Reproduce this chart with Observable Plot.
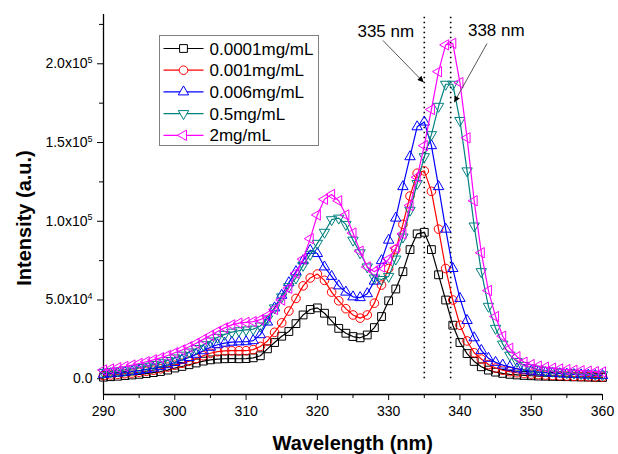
<!DOCTYPE html>
<html><head><meta charset="utf-8">
<script src="https://cdn.jsdelivr.net/npm/d3@7"></script>
<script src="https://cdn.jsdelivr.net/npm/@observablehq/plot@0.6"></script>
<style>
body{margin:0;background:#fff;}
#chart{position:relative;width:618px;height:454px;}
</style></head><body><div id="chart"></div>
<script>
// Wavelength grid (nm)
const wavelength = [290,291,292,293,294,295,296,297,298,299,300,301,302,303,304,305,306,307,308,309,310,311,312,313,314,315,316,317,318,319,320,321,322,323,324,325,326,327,328,329,330,331,332,333,334,335,336,337,338,339,340,341,342,343,344,345,346,347,348,349,350,351,352,353,354,355,356,357,358,359,360];
// Intensities in units of 10^3 a.u.
const c0001 = [1.0,1.3,1.6,2.0,2.4,2.8,3.3,3.9,4.6,5.5,6.8, 7.8,8.9,10.0,11.2,12.0,12.5,12.7,12.8,12.7,12.8, 13.3,14.6,19.0,23.0,27.0,30.0,35.0,40.5,44.0,45.0, 41.6,36.7,32.0,28.9,26.8,26.0,27.8,32.5,39.5,49.5, 57,68,82,92,93,82,66,50,34,23, 16,11,7.6,5.5,4.2,3.4,2.8,2.4,2.1,1.9, 1.7,1.6,1.5,1.4,1.3,1.2,1.1,1.0,0.9,0.8];
const c001 = [2.0,2.4,2.8,3.2,3.6,4.1,4.7,5.4,6.3,7.4,8.6, 9.8,11.2,12.8,14.6,16.2,17.2,17.7,17.8,17.8,17.8, 18.5,20.5,24.0,29.5,35.5,43.0,51.0,59.0,64.0,66.5, 62.5,55.0,49.5,44.5,40.5,38.5,40.5,48.0,59.5,70.0, 82,98,116,130.5,132,119,95,70,50,34, 24,16.5,12.5,9,6.8,5.4,4.5,3.8,3.3,2.9, 2.6,2.3,2.1,1.9,1.7,1.5,1.4,1.3,1.2,1.1];
const c006 = [2.8,3.2,3.6,4.1,4.6,5.2,5.9,6.7,7.7,8.9,10.3, 11.8,13.5,15.5,17.8,20.0,21.6,22.6,23.2,23.4,23.5, 24.2,28.0,36.0,45.0,53.0,61.0,68.0,75.0,81.5,79.5, 71,65,59,55,52,51.5,54,62,75,88, 102,122,141,160,163,148,122,95,70,51, 37,26,18,13,10.4,8.7,7.5,6.3,5.5,4.8, 4.3,3.9,3.5,3.2,2.9,2.7,2.5,2.3,2.1,2.0];
const c05 = [4.0,4.5,5.0,5.6,6.3,7.1,8.0,9.0,10.2,11.6,13.2, 15.0,17.0,19.2,21.6,24.0,26.3,28.2,29.6,30.5,31.0, 31.5,33.5,38.0,45.0,52.0,58.5,64.0,72.0,79.0,86.0, 93,101,102,98,88,80,71,64,63,65, 76,90,107,124,141,155,173,187,187,164, 132,97,68,46,32,22,15,11,8.5,7.0, 6.0,5.3,4.8,4.3,3.9,3.6,3.3,3.0,2.8,2.6];
const c2 = [5.5,6.2,7.0,7.8,8.7,9.7,10.8,12.0,13.3,14.8,16.5, 18.3,20.3,22.5,25.0,27.5,30.0,32.3,34.2,35.3,35.8, 36.3,37.5,40.0,44.0,50.0,57.5,67.0,76.0,89.0,104.0, 114,117,113,104,92.5,81,71,68,71,76, 83,92,110,128,148,171,195,212,213,188, 153,113,80,56,39.5,27,19.3,14,10.5,9.0, 8.0,7.3,6.7,6.2,5.8,5.4,5.1,4.8,4.5,4.3];

const seriesNames = ["0.0001mg/mL","0.001mg/mL","0.006mg/mL","0.5mg/mL","2mg/mL"];
const seriesValues = [c0001, c001, c006, c05, c2];
const seriesColors = ["#000000","#ff0000","#0000ff","#008080","#ff00ff"];

const xTicks = [290,300,310,320,330,340,350,360];
const xMinor = [295,305,315,325,335,345,355];
const yTicks = [0,50000,100000,150000,200000];
const yMinor = [25000,75000,125000,175000,225000];
const peakLines = [335, 338.7];
const notes = [{label:"335 nm", x:329.6, y:220700},{label:"338 nm", x:345.1, y:220800}];
const arrows = [{x1:329.2, y1:214800, x2:334.9, y2:188300},{x1:343.8, y1:212900, x2:339.2, y2:175600}];

// symbols
const symSquare = {draw(c,s){const r=Math.sqrt(s/Math.PI),h=r*0.75;c.moveTo(-h,-h);c.lineTo(h,-h);c.lineTo(h,h);c.lineTo(-h,h);c.closePath();}};
const symCircle = {draw(c,s){const r=Math.sqrt(s/Math.PI);c.moveTo(r,0);c.arc(0,0,r,0,2*Math.PI);c.closePath();}};
const symUp = {draw(c,s){const r=Math.sqrt(s/Math.PI);c.moveTo(0,-r);c.lineTo(r*0.866,r*0.5);c.lineTo(-r*0.866,r*0.5);c.closePath();}};
const symDown = {draw(c,s){const r=Math.sqrt(s/Math.PI);c.moveTo(0,r);c.lineTo(r*0.866,-r*0.5);c.lineTo(-r*0.866,-r*0.5);c.closePath();}};
const symLeft = {draw(c,s){const r=Math.sqrt(s/Math.PI);c.moveTo(-r,0);c.lineTo(r*0.5,-r*0.866);c.lineTo(r*0.5,r*0.866);c.closePath();}};
const seriesSymbols = [symSquare, symCircle, symUp, symDown, symLeft];
const seriesR = [5.2, 4.3, 6, 6, 6];

const YMIN = -10000, YMAX = 231300;

const seriesMarks = seriesNames.flatMap((name, k) => {
  const rows = wavelength.map((w, i) => ({w, v: seriesValues[k][i] * 1000}));
  return [
    Plot.line(rows, {x:"w", y:"v", stroke: seriesColors[k], strokeWidth: 1.2}),
    Plot.dot(rows, {x:"w", y:"v", symbol: seriesSymbols[k], r: seriesR[k], stroke: seriesColors[k], fill: "none", strokeWidth: 1})
  ];
});

function yfmt(d){
  if (d === 0) return "0.0";
  const e = Math.floor(Math.log10(d));
  return (d / Math.pow(10, e)).toFixed(1) + "x10^" + e;
}

const svg = Plot.plot({
  width: 618, height: 454,
  marginLeft: 103, marginRight: 16, marginTop: 14, marginBottom: 60,
  x: {domain: [290, 360], label: null},
  y: {domain: [YMIN, YMAX], label: null},
  style: {fontFamily: "'Liberation Sans', Arial, sans-serif", fontSize: "14px", background: "white", color: "black", overflow: "visible"},
  marks: [
    Plot.axisX({ticks: xTicks, tickSize: 6, tickPadding: 6, fontSize: 14, label: null, tickFormat: d => String(d)}),
    Plot.axisX({ticks: xMinor, tickSize: 4, tickFormat: () => "", label: null}),
    Plot.axisY({ticks: yTicks, tickSize: 6, tickPadding: 5, fontSize: 14, label: null, tickFormat: yfmt}),
    Plot.axisY({ticks: yMinor, tickSize: 4, tickFormat: () => "", label: null}),
    Plot.ruleX([290], {stroke: "black", strokeWidth: 1.3}),
    Plot.ruleY([YMIN], {stroke: "black", strokeWidth: 1.3}),
    Plot.ruleX(peakLines, {y1: 0, y2: YMAX, stroke: "black", strokeWidth: 1.6, strokeDasharray: "1.5,3.5"}),
    ...seriesMarks,
    Plot.link(arrows, {x1: "x1", y1: "y1", x2: "x2", y2: "y2", stroke: "#444", strokeWidth: 0.9}),
    Plot.text(notes, {x: "x", y: "y", text: "label", fontSize: 17, fill: "black"})
  ]
});

const s = d3.select(svg);
// superscripts on y tick labels
s.selectAll('g[aria-label="y-axis tick label"] text').each(function(){
  const t = this.textContent;
  if (t.includes("^")) {
    const [b, e] = t.split("^");
    const el = d3.select(this);
    el.text(null);
    el.append("tspan").text(b);
    el.append("tspan").attr("dy", "-0.6em").attr("font-size", "9px").text(e);
  }
});
// filled arrowheads
const defs = s.append("defs");
defs.append("marker").attr("id", "ahead").attr("viewBox", "0 0 10 10").attr("refX", 10).attr("refY", 5)
  .attr("markerWidth", 10).attr("markerHeight", 6).attr("markerUnits", "userSpaceOnUse").attr("orient", "auto")
  .append("path").attr("d", "M0,0L10,5L0,10z").attr("fill", "black");
s.selectAll('g[aria-label="link"] path').attr("marker-end", "url(#ahead)");

// legend
const lg = s.append("g").attr("transform", "translate(159.5,35.5)").attr("text-anchor", "start");
lg.append("rect").attr("width", 159).attr("height", 110).attr("fill", "white").attr("stroke", "#808080").attr("stroke-width", 1);
seriesNames.forEach((name, k) => {
  const y = 13 + k * 21.7;
  lg.append("line").attr("x1", 4).attr("x2", 44).attr("y1", y).attr("y2", y).attr("stroke", seriesColors[k]).attr("stroke-width", 1.2);
  lg.append("path").attr("d", d3.symbol(seriesSymbols[k], Math.PI * seriesR[k] * seriesR[k])()).attr("transform", `translate(24,${y})`)
    .attr("fill", "white").attr("stroke", seriesColors[k]);
  lg.append("text").attr("x", 50).attr("y", y).attr("dy", "0.36em").attr("text-anchor", "start").attr("font-size", 17).attr("fill", "black").text(name);
});
// axis titles
s.append("text").attr("x", 352.8).attr("y", 450).attr("text-anchor", "middle").attr("font-size", 20).attr("font-weight", "bold").attr("fill", "black").text("Wavelength (nm)");
s.append("text").attr("transform", "translate(31,218) rotate(-90)").attr("text-anchor", "middle").attr("font-size", 20).attr("font-weight", "bold").attr("fill", "black").text("Intensity (a.u.)");

document.getElementById("chart").appendChild(svg);
</script></body></html>
